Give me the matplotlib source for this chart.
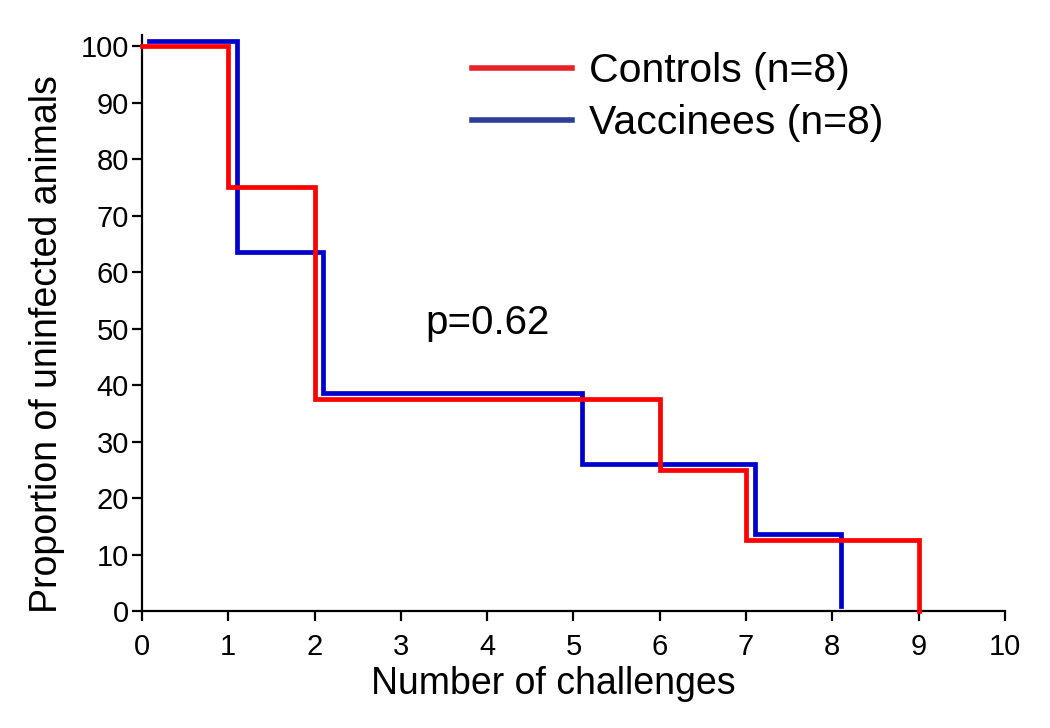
import matplotlib
matplotlib.use("Agg")
import matplotlib.pyplot as plt
from matplotlib.lines import Line2D

plt.rcParams['font.family'] = ['Liberation Sans', 'DejaVu Sans']

# Controls step curve (x = challenge number, y = % uninfected)
ctrl_x = [0, 1, 2, 6, 7, 9]
ctrl_y = [100, 75, 37.5, 25, 12.5, 0]
# Vaccinees step curve (drawn slightly offset in the original)
vacc_x = [0.08, 1.1, 2.1, 5.1, 7.1, 8.1]
vacc_y = [101, 63.6, 38.6, 26.1, 13.6, 0.9]

x_ticks = list(range(0, 11))
y_ticks = list(range(0, 101, 10))

fig = plt.figure(figsize=(10.5, 7.28), dpi=100)
ax = fig.add_axes([0.1352, 0.1607, 0.8219, 0.7913])

def step_xy(xs, ys):
    px, py = [], []
    for i in range(len(xs) - 1):
        px += [xs[i], xs[i + 1]]
        py += [ys[i], ys[i]]
    px.append(xs[-1])
    py.append(ys[-1])
    return px, py

bx, by = step_xy(vacc_x, vacc_y)
rx, ry = step_xy(ctrl_x, ctrl_y)
ax.plot(bx, by, color='#0000CC', lw=3.4, solid_joinstyle='miter', clip_on=False, zorder=3)
ax.plot(rx, ry, color='#FF0000', lw=3.4, solid_joinstyle='miter', clip_on=False, zorder=4)

ax.set_xlim(0, 10)
ax.set_ylim(0, 102)
ax.set_xticks(x_ticks)
ax.set_yticks(y_ticks)
for s in ['top', 'right']:
    ax.spines[s].set_visible(False)
for s in ['left', 'bottom']:
    ax.spines[s].set_linewidth(1.6)
ax.tick_params(direction='out', length=7.5, width=1.6, labelsize=21, pad=2)
ax.tick_params(axis='x', pad=8)

ax.set_xlabel('Number of challenges', fontsize=27)
ax.set_ylabel('Proportion of uninfected animals', fontsize=27)
ax.xaxis.set_label_coords(0.477, -0.096)
ax.yaxis.set_label_coords(-0.089, 0.4635)

ax.text(3.28, 51, 'p=0.62', fontsize=29, ha='left', va='center')

handles = [Line2D([], [], color='#E82127', lw=4),
           Line2D([], [], color='#2E3D98', lw=4)]
ax.legend(handles, ['Controls (n=8)', 'Vaccinees (n=8)'], loc='upper left',
          bbox_to_anchor=(0.382, 0.97), frameon=False, fontsize=29.5,
          borderpad=0, borderaxespad=0,
          handlelength=2.46, handletextpad=0.41, labelspacing=0.34)

fig.savefig('out.png', dpi=100)
